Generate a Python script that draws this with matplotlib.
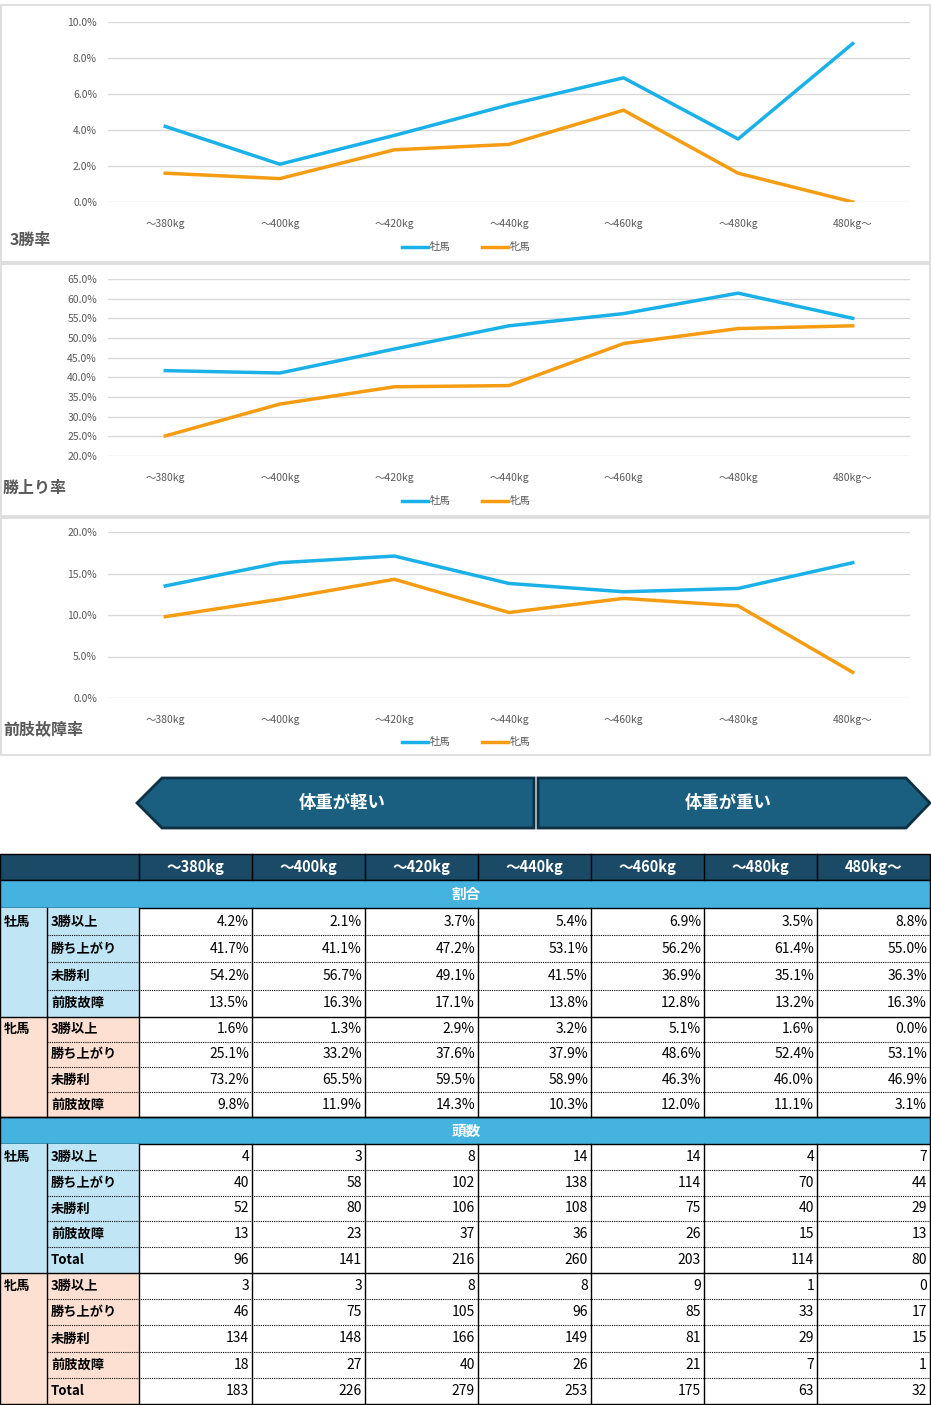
import matplotlib
matplotlib.use("Agg")
import matplotlib.pyplot as plt
from matplotlib.patches import Rectangle, Polygon
from matplotlib.ticker import FuncFormatter

plt.rcParams['font.family'] = ['Noto Sans CJK JP', 'DejaVu Sans']

cats = ['〜380kg', '〜400kg', '〜420kg', '〜440kg', '〜460kg', '〜480kg', '480kg〜']
rows = ['3勝以上', '勝ち上がり', '未勝利', '前肢故障']
male_pct = [[4.2, 2.1, 3.7, 5.4, 6.9, 3.5, 8.8],
            [41.7, 41.1, 47.2, 53.1, 56.2, 61.4, 55.0],
            [54.2, 56.7, 49.1, 41.5, 36.9, 35.1, 36.3],
            [13.5, 16.3, 17.1, 13.8, 12.8, 13.2, 16.3]]
female_pct = [[1.6, 1.3, 2.9, 3.2, 5.1, 1.6, 0.0],
              [25.1, 33.2, 37.6, 37.9, 48.6, 52.4, 53.1],
              [73.2, 65.5, 59.5, 58.9, 46.3, 46.0, 46.9],
              [9.8, 11.9, 14.3, 10.3, 12.0, 11.1, 3.1]]
male_cnt = [[4, 3, 8, 14, 14, 4, 7],
            [40, 58, 102, 138, 114, 70, 44],
            [52, 80, 106, 108, 75, 40, 29],
            [13, 23, 37, 36, 26, 15, 13],
            [96, 141, 216, 260, 203, 114, 80]]
female_cnt = [[3, 3, 8, 8, 9, 1, 0],
              [46, 75, 105, 96, 85, 33, 17],
              [134, 148, 166, 149, 81, 29, 15],
              [18, 27, 40, 26, 21, 7, 1],
              [183, 226, 279, 253, 175, 63, 32]]

W, H = 931, 1405
fig = plt.figure(figsize=(W/100, H/100), dpi=100)
bg = fig.add_axes([0, 0, 1, 1])
bg.set_xlim(0, W); bg.set_ylim(H, 0); bg.axis('off')

BLUE = '#1ab0e8'; ORANGE = '#f59c12'; GRID = '#d9d9d9'; TXT = '#595959'

def ax_px(x0, y0, x1, y1):
    return fig.add_axes([x0/W, 1-y1/H, (x1-x0)/W, (y1-y0)/H])

charts = [
    (5, 262, 22, 202, 0, 10, 2, male_pct[0], female_pct[0], '3勝率', 240, 247),
    (264, 516, 279, 456, 20, 65, 5, male_pct[1], female_pct[1], '勝上り率', 488, 501),
    (518, 755, 532, 698, 0, 20, 5, male_pct[3], female_pct[3], '前肢故障率', 729, 742),
]
for (p0, p1, yt, yb, lo, hi, step, m, f, title, ty, ly) in charts:
    bg.add_patch(Rectangle((0.5, p0), 929.5, p1-p0, fill=False, ec='#d9d9d9', lw=1.2))
    ax = ax_px(108, yt, 910, yb)
    x = range(len(cats))
    ax.plot(x, m, color=BLUE, lw=2.5)
    ax.plot(x, f, color=ORANGE, lw=2.5)
    ax.set_xlim(-0.5, 6.5); ax.set_ylim(lo, hi)
    ticks = [lo + i*step for i in range(int(round((hi-lo)/step))+1)]
    ax.set_yticks(ticks)
    ax.yaxis.set_major_formatter(FuncFormatter(lambda v, p: f'{v:.1f}%'))
    ax.grid(axis='y', color=GRID, lw=1)
    for s in ax.spines.values(): s.set_visible(False)
    ax.tick_params(length=0, labelsize=7.5, colors=TXT, pad=8)
    ax.set_xticks(list(x)); ax.set_xticklabels(cats)
    ax.tick_params(axis='x', pad=12)
    ax.patch.set_alpha(0)
    bg.text(3 if len(title) > 3 else 10, ty, title, fontsize=11.5, fontweight='bold', color=TXT, va='center')
    cx = 466
    bg.plot([402, 428], [ly, ly], color=BLUE, lw=2.5)
    bg.text(430, ly, '牡馬', fontsize=7.5, color=TXT, va='center')
    bg.plot([482, 508], [ly, ly], color=ORANGE, lw=2.5)
    bg.text(510, ly, '牝馬', fontsize=7.5, color=TXT, va='center')

# banner
DARK = '#1b5f80'; EDGE = '#0f2f42'
bg.add_patch(Polygon([(137, 803), (162, 778), (534, 778), (534, 828), (162, 828)],
                     closed=True, fc=DARK, ec=EDGE, lw=2))
bg.add_patch(Polygon([(538, 778), (906, 778), (930, 803), (906, 828), (538, 828)],
                     closed=True, fc=DARK, ec=EDGE, lw=2))
bg.text(342, 803, '体重が軽い', color='white', fontsize=12.5, fontweight='bold', ha='center', va='center')
bg.text(728, 803, '体重が重い', color='white', fontsize=12.5, fontweight='bold', ha='center', va='center')

# table
HEAD = '#1a4a66'; BAND = '#45b3e0'; MBG = '#c0e6f6'; FBG = '#fde0d1'
colx = [0, 47, 139, 252, 365, 478, 591, 704, 817, 930]
bg.add_patch(Rectangle((0, 854), 930, 26, fc=HEAD, ec='black', lw=1))
for i, c in enumerate(cats):
    bg.text((colx[i+2]+colx[i+3])/2, 867, c, color='white', fontsize=10.5, fontweight='bold', ha='center', va='center')
for xx in colx[2:-1]:
    bg.plot([xx, xx], [854, 880], color='black', lw=1)

def band(y0, y1, label):
    bg.add_patch(Rectangle((0, y0), 930, y1-y0, fc=BAND, ec='black', lw=1))
    bg.text(466, (y0+y1)/2, label, color='white', fontsize=10.5, fontweight='bold', ha='center', va='center')

def group(y0, rh, sex, col, labels, data, fmt):
    n = len(labels); y1 = y0 + rh*n
    bg.add_patch(Rectangle((0, y0), 139, y1-y0, fc=col, ec='none'))
    bg.text(4, y0+rh/2, sex, fontsize=9.5, fontweight='bold', va='center')
    for r in range(n):
        yy = y0 + r*rh
        bg.text(51, yy+rh/2, labels[r], fontsize=9.5, fontweight='bold', va='center')
        for c in range(7):
            bg.text(colx[c+3]-3, yy+rh/2, fmt(data[r][c]), fontsize=10, ha='right', va='center')
        if r > 0:
            bg.plot([47, 930], [yy, yy], color='black', lw=0.8, ls=(0, (1, 1)))
    bg.plot([0, 930], [y1, y1], color='black', lw=1)
    for xx in colx:
        bg.plot([xx, xx], [y0, y1], color='black', lw=1)
    return y1

pf = lambda v: f'{v:.1f}%'
cf = lambda v: f'{v}'
band(880, 908, '割合')
y = group(908, 27.2, '牡馬', MBG, rows, male_pct, pf)
y = group(y, 25.1, '牝馬', FBG, rows, female_pct, pf)
band(1117, 1144, '頭数')
y = group(1144, 25.8, '牡馬', MBG, rows + ['Total'], male_cnt, cf)
y = group(y, 26.2, '牝馬', FBG, rows + ['Total'], female_cnt, cf)

fig.savefig('out.png', dpi=100)
